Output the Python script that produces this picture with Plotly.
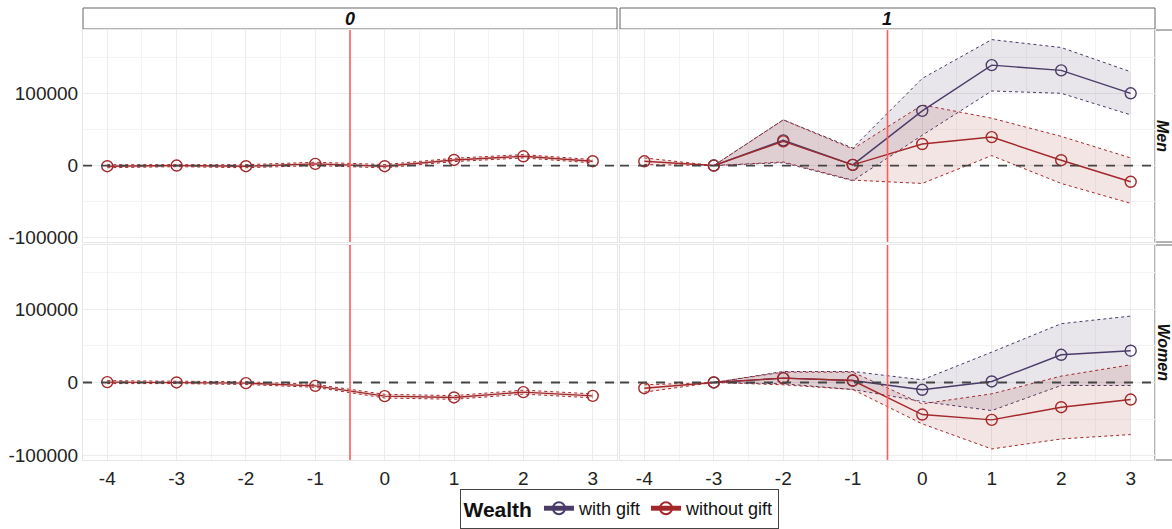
import plotly.graph_objects as go

# Event time relative to the gift year
years_all = [-4, -3, -2, -1, 0, 1, 2, 3]
years_gift = [-3, -2, -1, 0, 1, 2, 3]

# Group 0 (no gift group)
men0_without = [-900, 0, -900, 2300, -900, 7800, 12900, 6000]
men0_without_lo = [-3000, -1500, -3000, 0, -3200, 5500, 10600, 3700]
men0_without_hi = [1200, 1500, 1200, 4600, 1400, 10100, 15200, 8300]
women0_without = [500, 0, -900, -4600, -18700, -20500, -13200, -18300]
women0_without_lo = [-1500, -1500, -2800, -6600, -21200, -23000, -15900, -21000]
women0_without_hi = [2500, 1500, 1000, -2600, -16200, -18000, -10500, -15600]

# Group 1
men1_with = [0, 35000, 1000, 75900, 139300, 132000, 100200]
men1_with_lo = [0, 4000, -21000, 42000, 103400, 100200, 70300]
men1_with_hi = [0, 63400, 24400, 120900, 174700, 163700, 130100]
men1_without = [5900, 0, 33500, 1000, 29900, 39500, 7400, -22500]
men1_without_lo = [1400, 0, 5000, -20200, -24800, 13800, -24800, -52400]
men1_without_hi = [10600, 0, 63400, 23000, 84100, 65700, 40500, 10600]

women1_with = [0, 5900, 2700, -10000, 1400, 37900, 43400]
women1_with_lo = [0, -1800, -9600, -26000, -38400, -4100, -4100]
women1_with_hi = [0, 15000, 15000, 3600, 41500, 80400, 90800]
women1_without = [-7800, 0, 5900, 2700, -43800, -51100, -33800, -23300]
women1_without_lo = [-13200, 0, -3200, -9600, -56600, -90900, -77200, -71200]
women1_without_hi = [-3200, 0, 14100, 14100, -29200, -15500, 8700, 24200]

col_labels = ["0", "1"]
row_labels = ["Men", "Women"]
series_names = ["with gift", "without gift"]
y_tickvals = [-100000, 0, 100000]
y_ticktext = ["-100000", "0", "100000"]
x_tickvals = [-4, -3, -2, -1, 0, 1, 2, 3]
x_ticktext = ["-4", "-3", "-2", "-1", "0", "1", "2", "3"]
treatment_x = -0.5

PURPLE = "#4a3b68"
RED = "#a3282a"
PURPLE_FILL = "rgba(74,59,104,0.13)"
RED_FILL = "rgba(163,40,42,0.12)"
FONT = "Liberation Sans, Arial, sans-serif"

W, H = 1172, 529
def px_x(p):
    return p / W
def px_y(p):
    return 1 - p / H

x_domains = [[px_x(83), px_x(617)], [px_x(620), px_x(1155)]]
y_domains = [[px_y(242), px_y(30)], [px_y(460), px_y(245)]]

fig = go.Figure()

def axis_ids(r, c):
    n = r * 2 + c + 1
    return ("x" if n == 1 else f"x{n}"), ("y" if n == 1 else f"y{n}")

panels = {
    (0, 0): [(None, None, None, None), (years_all, men0_without, men0_without_lo, men0_without_hi)],
    (0, 1): [(years_gift, men1_with, men1_with_lo, men1_with_hi),
             (years_all, men1_without, men1_without_lo, men1_without_hi)],
    (1, 0): [(None, None, None, None), (years_all, women0_without, women0_without_lo, women0_without_hi)],
    (1, 1): [(years_gift, women1_with, women1_with_lo, women1_with_hi),
             (years_all, women1_without, women1_without_lo, women1_without_hi)],
}

colors = [PURPLE, RED]
fills = [PURPLE_FILL, RED_FILL]
legend_done = [False, False]

for (r, c), series in panels.items():
    xa, ya = axis_ids(r, c)
    # confidence bands first
    for k, (xs, mid, lo, hi) in enumerate(series):
        if xs is None:
            continue
        fig.add_trace(go.Scatter(x=xs, y=lo, xaxis=xa, yaxis=ya, mode="lines",
                                 line=dict(color=colors[k], width=1, dash="dot"),
                                 opacity=0.7, showlegend=False, hoverinfo="skip"))
        fig.add_trace(go.Scatter(x=xs, y=hi, xaxis=xa, yaxis=ya, mode="lines",
                                 line=dict(color=colors[k], width=1, dash="dot"),
                                 fill="tonexty", fillcolor=fills[k],
                                 opacity=0.7, showlegend=False, hoverinfo="skip"))
    for k, (xs, mid, lo, hi) in enumerate(series):
        if xs is None:
            continue
        show = not legend_done[k]
        legend_done[k] = True
        fig.add_trace(go.Scatter(x=xs, y=mid, xaxis=xa, yaxis=ya, mode="lines+markers",
                                 name=series_names[k], legendgroup=series_names[k],
                                 legendrank=k + 1,
                                 line=dict(color=colors[k], width=1.4),
                                 marker=dict(symbol="circle-open", size=11,
                                             line=dict(color=colors[k], width=1.4)),
                                 showlegend=show))

axis_common = dict(showgrid=True, gridcolor="#ececec", gridwidth=1, zeroline=False,
                   showline=True, linecolor="#e6e6e6", mirror=True, ticks="",
                   automargin=False,
                   tickfont=dict(family=FONT, size=19, color="#222222"))

layout = dict(width=W, height=H, margin=dict(l=0, r=0, t=0, b=0, autoexpand=False),
              plot_bgcolor="white", paper_bgcolor="white", font=dict(family=FONT),
              showlegend=True)

for r in range(2):
    for c in range(2):
        n = r * 2 + c + 1
        xk = "xaxis" if n == 1 else f"xaxis{n}"
        yk = "yaxis" if n == 1 else f"yaxis{n}"
        xa, ya = axis_ids(r, c)
        layout[xk] = dict(axis_common, domain=x_domains[c], range=[-4.35, 3.35],
                          anchor=ya, tickvals=x_tickvals, ticktext=x_ticktext,
                          showticklabels=(r == 1),
                          minor=dict(dtick=0.5, showgrid=True, gridcolor="#f4f4f4"),
                          ticklabelstandoff=1)
        layout[yk] = dict(axis_common, domain=y_domains[r], range=[-106000, 188000],
                          anchor=xa, tickvals=y_tickvals, ticktext=y_ticktext,
                          showticklabels=(c == 0),
                          minor=dict(dtick=50000, showgrid=True, gridcolor="#f4f4f4"),
                          ticklabelstandoff=0)

fig.update_layout(**layout)

shapes = []
annotations = []
for r in range(2):
    for c in range(2):
        xa, ya = axis_ids(r, c)
        # zero reference line
        shapes.append(dict(type="line", xref=f"{xa} domain", yref=ya, x0=0, x1=1, y0=0, y1=0,
                           line=dict(color="#444444", width=1.8, dash="dash")))
        # treatment line
        shapes.append(dict(type="line", xref=xa, yref=f"{ya} domain", x0=treatment_x, x1=treatment_x,
                           y0=0, y1=1, line=dict(color="#ff5c5c", width=1.6)))

# column strips
for c, lab in enumerate(col_labels):
    shapes.append(dict(type="rect", xref="paper", yref="paper",
                       x0=x_domains[c][0], x1=x_domains[c][1], y0=px_y(29), y1=px_y(8),
                       fillcolor="white", line=dict(color="#666666", width=1), layer="below"))
    annotations.append(dict(xref="paper", yref="paper", x=sum(x_domains[c]) / 2, y=px_y(18.5),
                            xanchor="center", yanchor="middle",
                            text=f"<b><i>{lab}</i></b>", showarrow=False,
                            font=dict(family=FONT, size=18, color="#111111")))
# row strips
for r, lab in enumerate(row_labels):
    shapes.append(dict(type="rect", xref="paper", yref="paper",
                       x0=px_x(1155), x1=px_x(1185), y0=y_domains[r][0], y1=y_domains[r][1],
                       fillcolor="white", line=dict(color="#666666", width=1), layer="below"))
    annotations.append(dict(xref="paper", yref="paper", x=px_x(1163), y=sum(y_domains[r]) / 2,
                            xanchor="center", yanchor="middle",
                            text=f"<b><i>{lab}</i></b>", showarrow=False, textangle=90,
                            font=dict(family=FONT, size=16, color="#111111")))

fig.update_layout(
    shapes=shapes, annotations=annotations,
    legend=dict(orientation="h", x=0.529, xanchor="center", y=0, yanchor="bottom",
                bordercolor="#444444", borderwidth=1, bgcolor="white",
                title=dict(text="<b>Wealth</b>", font=dict(family=FONT, size=21, color="#111111"),
                           side="left"),
                font=dict(family=FONT, size=18, color="#111111"),
                itemwidth=30, tracegroupgap=0, itemsizing="constant"),
)

fig.write_html("out.html")
